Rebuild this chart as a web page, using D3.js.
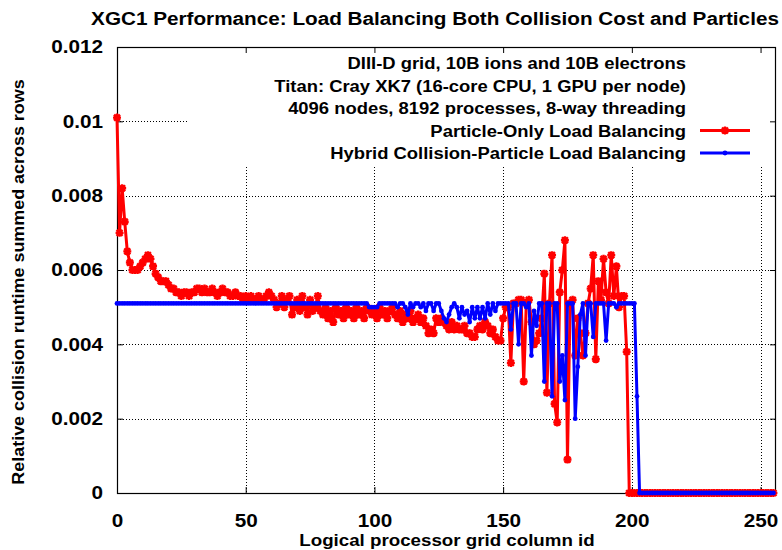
<!DOCTYPE html>
<html>
<head>
<meta charset="utf-8">
<script src="https://cdn.jsdelivr.net/npm/d3@7"></script>
<style>
  body { margin: 0; background: #fff; }
  svg text { font-family: "Liberation Sans", Arial, sans-serif; font-weight: bold; fill: #000; }
</style>
</head>
<body>
<div id="chart"></div>
<script>
// Particle-Only Load Balancing, one value per column id (0..255)
const particleOnly = [
  0.0101,0.0070,0.0082,0.0073,0.0065,0.0062,0.0060,0.0060,0.0060,0.0061,
  0.0062,0.0063,0.0064,0.0063,0.0061,0.0059,0.0058,0.0057,0.0057,0.0057,
  0.0056,0.0055,0.0055,0.0054,0.0054,0.0053,0.0054,0.0054,0.0053,0.0054,
  0.0054,0.0055,0.0055,0.0054,0.0055,0.0054,0.0054,0.0055,0.0054,0.0053,
  0.0054,0.0055,0.0054,0.0054,0.0053,0.0053,0.0054,0.0053,0.0053,0.0052,
  0.0053,0.0052,0.0053,0.0052,0.0052,0.0053,0.0052,0.0052,0.0053,0.0054,
  0.0053,0.0052,0.0050,0.0051,0.0053,0.0050,0.0052,0.0053,0.0048,0.0050,
  0.0052,0.0049,0.0053,0.0050,0.0048,0.0052,0.0049,0.0050,0.0053,0.0049,
  0.0048,0.0050,0.0047,0.0049,0.0046,0.0050,0.0048,0.0049,0.0047,0.0050,
  0.0048,0.0049,0.0047,0.0050,0.0048,0.0049,0.0047,0.0050,0.0049,0.0048,
  0.0049,0.0047,0.0050,0.0048,0.0049,0.0047,0.0049,0.0050,0.0048,0.0047,
  0.0049,0.0046,0.0048,0.0047,0.0049,0.0046,0.0047,0.0048,0.0046,0.0047,
  0.0045,0.0043,0.0044,0.0043,0.0047,0.0046,0.0047,0.0046,0.0045,0.0044,
  0.0046,0.0044,0.0045,0.0044,0.0044,0.0045,0.0043,0.0043,0.0042,0.0042,
  0.0044,0.0045,0.0044,0.0046,0.0045,0.0043,0.0044,0.0042,0.0041,0.0041,
  0.0047,0.0050,0.0050,0.0035,0.0051,0.0051,0.0052,0.0052,0.0030,0.0051,
  0.0052,0.0046,0.0040,0.0041,0.0043,0.0047,0.0059,0.0027,0.0051,0.0064,
  0.0024,0.0019,0.0054,0.0060,0.0068,0.0009,0.0051,0.0052,0.0037,0.0047,
  0.0043,0.0037,0.0043,0.0051,0.0055,0.0064,0.0036,0.0057,0.0052,0.0063,
  0.0054,0.0051,0.0064,0.0053,0.0061,0.0050,0.0053,0.0053,0.0038,0,
  0,0,0,0,0,0,0,0,0,0,
  0,0,0,0,0,0,0,0,0,0,
  0,0,0,0,0,0,0,0,0,0,
  0,0,0,0,0,0,0,0,0,0,
  0,0,0,0,0,0,0,0,0,0,
  0,0,0,0,0,0
];

// Hybrid Collision-Particle Load Balancing
const hybrid = [
  0.0051,0.0051,0.0051,0.0051,0.0051,0.0051,0.0051,0.0051,0.0051,0.0051,
  0.0051,0.0051,0.0051,0.0051,0.0051,0.0051,0.0051,0.0051,0.0051,0.0051,
  0.0051,0.0051,0.0051,0.0051,0.0051,0.0051,0.0051,0.0051,0.0051,0.0051,
  0.0051,0.0051,0.0051,0.0051,0.0051,0.0051,0.0051,0.0051,0.0051,0.0051,
  0.0051,0.0051,0.0051,0.0051,0.0051,0.0051,0.0051,0.0051,0.0051,0.0051,
  0.0051,0.0051,0.0051,0.0051,0.0051,0.0051,0.0051,0.0051,0.0051,0.0051,
  0.0051,0.0051,0.0051,0.0051,0.0051,0.0051,0.0051,0.0051,0.0051,0.0051,
  0.0051,0.0051,0.0051,0.0051,0.0051,0.0051,0.0051,0.0051,0.0051,0.0051,
  0.0051,0.0051,0.0051,0.0051,0.0051,0.0051,0.0051,0.0051,0.0051,0.0051,
  0.0051,0.0051,0.0051,0.0051,0.0051,0.0051,0.0051,0.0051,0.0050,0.0050,
  0.0050,0.0050,0.0051,0.0051,0.0051,0.0051,0.0051,0.0051,0.0051,0.0050,
  0.0051,0.0051,0.0050,0.0048,0.0051,0.0050,0.0051,0.0051,0.0050,0.0051,
  0.0049,0.0051,0.0051,0.0049,0.0051,0.0051,0.0049,0.0047,0.0046,0.0048,
  0.0050,0.0051,0.0050,0.0047,0.0050,0.0048,0.0049,0.0046,0.0050,0.0047,
  0.0050,0.0047,0.0050,0.0047,0.0051,0.0048,0.0051,0.0049,0.0051,0.0051,
  0.0051,0.0051,0.0051,0.0044,0.0051,0.0051,0.0040,0.0051,0.0051,0.0050,
  0.0051,0.0037,0.0049,0.0045,0.0051,0.0051,0.0030,0.0051,0.0051,0.0026,
  0.0051,0.0051,0.0030,0.0037,0.0025,0.0051,0.0051,0.0051,0.0020,0.0034,
  0.0048,0.0051,0.0037,0.0051,0.0051,0.0042,0.0051,0.0051,0.0051,0.0051,
  0.0041,0.0051,0.0051,0.0051,0.0050,0.0051,0.0051,0.0051,0.0051,0.0051,
  0.0051,0.0051,0.0026,0,0,0,0,0,0,0,
  0,0,0,0,0,0,0,0,0,0,
  0,0,0,0,0,0,0,0,0,0,
  0,0,0,0,0,0,0,0,0,0,
  0,0,0,0,0,0,0,0,0,0,
  0,0,0,0,0,0
];

const xTicks = [0, 50, 100, 150, 200, 250];
const yTicks = [0, 0.002, 0.004, 0.006, 0.008, 0.01, 0.012];
const infoLines = [
  "DIII-D grid, 10B ions and 10B electrons",
  "Titan: Cray XK7 (16-core CPU, 1 GPU per node)",
  "4096 nodes, 8192 processes, 8-way threading"
];
const seriesNames = ["Particle-Only Load Balancing", "Hybrid Collision-Particle Load Balancing"];
const seriesColors = ["#ff0000", "#0000ff"];

const W = 782, H = 550;
const plot = {left: 117, right: 776, top: 47, bottom: 493};
const WIDEN = 1.15; // the original lettering is a bit wider than Arial

// stretch text horizontally by setting its length
function widen(sel, k = WIDEN) {
  sel.each(function () {
    const len = this.getComputedTextLength();
    d3.select(this).attr("textLength", len * k).attr("lengthAdjust", "spacingAndGlyphs");
  });
}

const svg = d3.select("#chart").append("svg")
  .attr("width", W).attr("height", H);

const x = d3.scaleLinear().domain([0, 256]).range([plot.left, plot.right]);
const y = d3.scaleLinear().domain([0, 0.012]).range([plot.bottom, plot.top]);

// grid
const grid = svg.append("g")
  .attr("stroke", "#000").attr("stroke-width", 1).attr("stroke-dasharray", "1,2");
grid.selectAll(".gx").data(xTicks.filter(d => d > 0)).join("line")
  .attr("x1", d => Math.round(x(d)) + 0.5).attr("x2", d => Math.round(x(d)) + 0.5)
  .attr("y1", plot.top).attr("y2", plot.bottom);
grid.selectAll(".gy").data(yTicks.filter(d => d > 0 && d < 0.012)).join("line")
  .attr("y1", d => Math.round(y(d)) + 0.5).attr("y2", d => Math.round(y(d)) + 0.5)
  .attr("x1", plot.left).attr("x2", plot.right);

// opaque key box
svg.append("rect")
  .attr("x", 188).attr("y", plot.top + 1)
  .attr("width", plot.right - 189).attr("height", 117)
  .attr("fill", "#fff");

// axes with inward ticks on all four sides
const fmtY = d => d === 0 ? "0" : String(+d.toFixed(3));
svg.append("g").attr("transform", `translate(0,${plot.bottom})`)
  .call(d3.axisBottom(x).tickValues(xTicks).tickSizeInner(-6).tickSizeOuter(0).tickPadding(21))
  .call(g => g.select(".domain").remove())
  .call(g => g.selectAll("text").attr("font-size", 18).style("font-family", null).call(widen));
svg.append("g").attr("transform", `translate(0,${plot.top})`)
  .call(d3.axisTop(x).tickValues(xTicks).tickSizeInner(-6).tickSizeOuter(0).tickFormat(""))
  .call(g => g.select(".domain").remove());
svg.append("g").attr("transform", `translate(${plot.left},0)`)
  .call(d3.axisLeft(y).tickValues(yTicks).tickSizeInner(-6).tickSizeOuter(0).tickPadding(14).tickFormat(fmtY))
  .call(g => g.select(".domain").remove())
  .call(g => g.selectAll("text").attr("font-size", 18).style("font-family", null).call(widen));
svg.append("g").attr("transform", `translate(${plot.right},0)`)
  .call(d3.axisRight(y).tickValues(yTicks).tickSizeInner(-6).tickSizeOuter(0).tickFormat(""))
  .call(g => g.select(".domain").remove());

// frame
svg.append("rect")
  .attr("x", plot.left + 0.5).attr("y", plot.top + 0.5)
  .attr("width", plot.right - plot.left - 1).attr("height", plot.bottom - plot.top)
  .attr("fill", "none").attr("stroke", "#000").attr("stroke-width", 1.2);

// series
const line = d3.line().x((d, i) => x(i)).y(d => y(d));
const starPath = "M-4,0H4M0,-4V4M-3,-3L3,3M-3,3L3,-3";

const redG = svg.append("g");
redG.append("path").datum(particleOnly)
  .attr("d", line).attr("fill", "none")
  .attr("stroke", seriesColors[0]).attr("stroke-width", 3).attr("stroke-linejoin", "round");
redG.selectAll("path.pt").data(particleOnly).join("path").attr("class", "pt")
  .attr("d", starPath)
  .attr("transform", (d, i) => `translate(${x(i)},${y(d)})`)
  .attr("stroke", seriesColors[0]).attr("stroke-width", 2.4);

const blueG = svg.append("g");
blueG.append("path").datum(hybrid)
  .attr("d", line).attr("fill", "none")
  .attr("stroke", seriesColors[1]).attr("stroke-width", 3).attr("stroke-linejoin", "round");
blueG.selectAll("circle").data(hybrid).join("circle")
  .attr("cx", (d, i) => x(i)).attr("cy", d => y(d)).attr("r", 2.4)
  .attr("fill", seriesColors[1]);

// key
const keyRight = 686, rowH = 22.5, row0 = 69;
const keyRows = infoLines.concat(seriesNames);
svg.append("g").selectAll("text").data(keyRows).join("text")
  .attr("x", keyRight).attr("y", (d, i) => row0 + i * rowH)
  .attr("text-anchor", "end").attr("font-size", 16)
  .text(d => d)
  .call(widen);
seriesNames.forEach((name, k) => {
  const ly = row0 + (3 + k) * rowH - 6;
  svg.append("line")
    .attr("x1", 700).attr("x2", 750).attr("y1", ly).attr("y2", ly)
    .attr("stroke", seriesColors[k]).attr("stroke-width", 3);
  if (k === 0) {
    svg.append("path").attr("d", starPath).attr("transform", `translate(725,${ly})`)
      .attr("stroke", seriesColors[k]).attr("stroke-width", 2.4);
  } else {
    svg.append("circle").attr("cx", 725).attr("cy", ly).attr("r", 2.4).attr("fill", seriesColors[k]);
  }
});

// titles
svg.append("text")
  .attr("x", 435).attr("y", 25).attr("text-anchor", "middle").attr("font-size", 18)
  .text("XGC1 Performance: Load Balancing Both Collision Cost and Particles")
  .call(widen);
svg.append("text")
  .attr("x", 447).attr("y", 546).attr("text-anchor", "middle").attr("font-size", 16)
  .text("Logical processor grid column id")
  .call(widen, 1.17);
svg.append("text")
  .attr("transform", "translate(24,282) rotate(-90)")
  .attr("text-anchor", "middle").attr("font-size", 16)
  .text("Relative collision runtime summed across rows")
  .call(widen, 1.12);
</script>
</body>
</html>
